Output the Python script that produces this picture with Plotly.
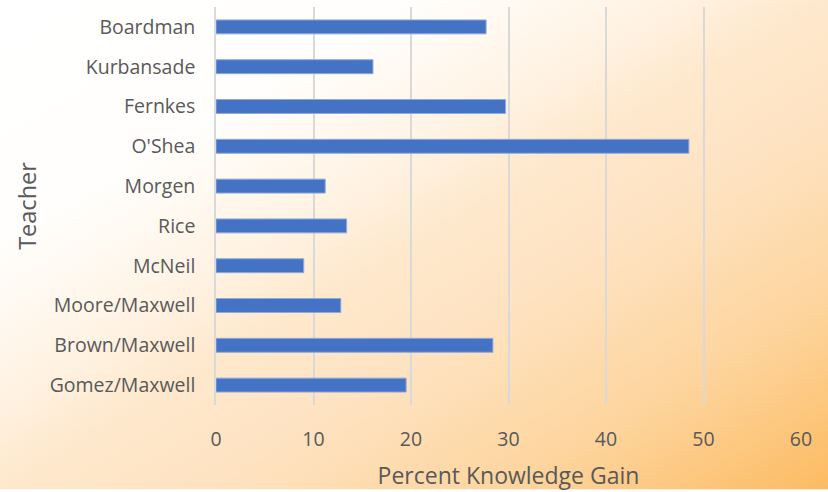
import plotly.graph_objects as go
import urllib.parse

# Teachers listed top to bottom, with their percent knowledge gain
teachers = ["Boardman", "Kurbansade", "Fernkes", "O'Shea", "Morgen", "Rice",
            "McNeil", "Moore/Maxwell", "Brown/Maxwell", "Gomez/Maxwell"]
gain = [27.7, 16.1, 29.7, 48.5, 11.2, 13.4, 9.0, 12.8, 28.4, 19.5]
x_ticks = [0, 10, 20, 30, 40, 50, 60]

W, H = 828, 492
M = dict(l=216, r=27, t=7, b=85)
pw = W - M["l"] - M["r"]
ph = H - M["t"] - M["b"]

# Diagonal white-to-orange background as an SVG gradient
svg = (
    "<svg xmlns='http://www.w3.org/2000/svg' width='828' height='492' preserveAspectRatio='none'>"
    "<defs><linearGradient id='g' x1='0' y1='0' x2='1' y2='1'>"
    "<stop offset='0' stop-color='#ffffff'/>"
    "<stop offset='0.25' stop-color='#fffefc'/>"
    "<stop offset='0.4' stop-color='#fff3e4'/>"
    "<stop offset='0.5' stop-color='#fee8cc'/>"
    "<stop offset='0.62' stop-color='#fee3c2'/>"
    "<stop offset='0.81' stop-color='#fdd49c'/>"
    "<stop offset='1' stop-color='#fcbb62'/>"
    "</linearGradient></defs>"
    "<rect width='828' height='492' fill='url(#g)'/></svg>"
)
bg_src = "data:image/svg+xml;charset=utf-8," + urllib.parse.quote(svg)

fig = go.Figure(
    go.Bar(
        x=gain,
        y=teachers,
        orientation="h",
        marker=dict(color="#4472C4", line=dict(color="#8eaadb", width=1)),
        hoverinfo="x+y",
    )
)

font_family = "Open Sans, Noto Sans, sans-serif"
fig.update_layout(
    width=W,
    height=H,
    margin=M,
    paper_bgcolor="rgba(0,0,0,0)",
    plot_bgcolor="rgba(0,0,0,0)",
    bargap=0.65,
    showlegend=False,
    font=dict(family=font_family, color="#595959", size=16),
    images=[dict(
        source=bg_src,
        xref="paper", yref="paper",
        x=-M["l"] / pw, y=1 + M["t"] / ph,
        sizex=W / pw, sizey=H / ph,
        xanchor="left", yanchor="top",
        sizing="stretch", layer="below",
    )],
    xaxis=dict(
        range=[0, 60],
        tickvals=x_ticks,
        ticktext=[str(v) for v in x_ticks],
        showgrid=True,
        gridcolor="#d9d9d9",
        gridwidth=1.5,
        zeroline=False,
        showline=False,
        ticks="",
        ticklabelstandoff=20,
        tickfont=dict(size=19.5, color="#595959"),
        title=dict(text="Percent Knowledge Gain",
                   font=dict(size=23, color="#595959"), standoff=17),
        fixedrange=True,
    ),
    yaxis=dict(
        categoryorder="array",
        categoryarray=teachers,
        autorange="reversed",
        showgrid=False,
        showline=True,
        linecolor="#d9d9d9",
        linewidth=1.5,
        ticks="",
        ticklabelstandoff=15,
        tickfont=dict(size=19.5, color="#595959"),
        title=dict(text="Teacher", font=dict(size=23.5, color="#595959"), standoff=6),
        fixedrange=True,
    ),
)

fig.write_html("out.html")
